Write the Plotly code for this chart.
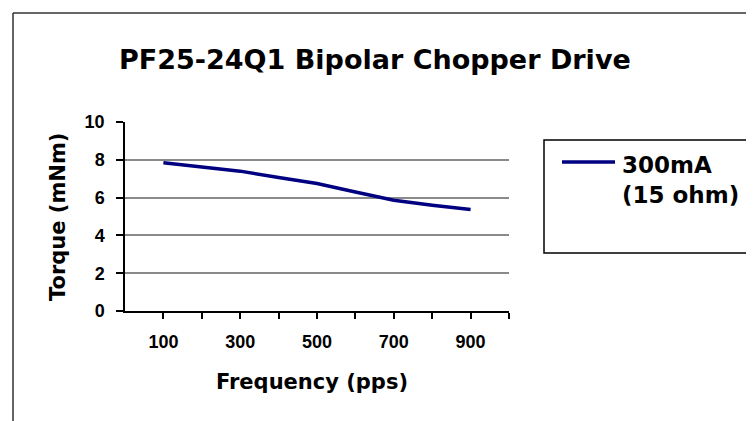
import plotly.graph_objects as go

# Data
frequency_pps = [100, 200, 300, 400, 500, 600, 700, 800, 900]
torque_mnm = [7.85, 7.62, 7.4, 7.06, 6.75, 6.3, 5.86, 5.6, 5.37]
series_name = "300mA<br>(15 ohm)"

x_tick_vals = [100, 200, 300, 400, 500, 600, 700, 800, 900, 1000]
x_tick_text = ["100", "", "300", "", "500", "", "700", "", "900", ""]
y_tick_vals = [0, 2, 4, 6, 8, 10]
y_tick_text = ["0", "2", "4", "6", "8", "10"]

OFF = 8  # page body margin
W, H = 754 - OFF, 421 - OFF
L, R, T, B = 125, 509, 122, 311  # plot area, page pixel coords


def px(x):
    return (x - L) / (R - L)


def py(y):
    return (B - y) / (B - T)


WIDE = "DejaVu Sans, Verdana, sans-serif"
NARROW = "Liberation Sans, Arial, sans-serif"
LINE_COLOR = "#000080"

fig = go.Figure()
fig.add_trace(go.Scatter(
    x=frequency_pps, y=torque_mnm, mode="lines", name=series_name,
    line=dict(color=LINE_COLOR, width=3.5), showlegend=False,
))

fig.update_layout(
    width=W, height=H,
    margin=dict(l=L - OFF, r=W - (R - OFF), t=T - OFF, b=H - (B - OFF), pad=0),
    paper_bgcolor="white", plot_bgcolor="white",
    font=dict(family=NARROW, color="black"),
    showlegend=False,
    xaxis=dict(
        range=[0, 1000], tickvals=x_tick_vals,
        ticktext=[f"<b>{t}</b>" if t else "" for t in x_tick_text],
        showgrid=False, zeroline=False,
        showline=True, linecolor="black", linewidth=1.5,
        ticks="outside", ticklen=6, tickcolor="black", tickwidth=1.5,
        ticklabelstandoff=8,
        tickfont=dict(family=NARROW, size=18, color="black"),
        fixedrange=True,
    ),
    yaxis=dict(
        range=[0, 10], tickvals=y_tick_vals,
        ticktext=[f"<b>{t}</b>" for t in y_tick_text],
        showgrid=True, gridcolor="#8a8a8a", gridwidth=2,
        zeroline=False,
        showline=True, linecolor="black", linewidth=1.5,
        ticks="outside", ticklen=7, tickcolor="black", tickwidth=1.5,
        ticklabelstandoff=8,
        tickfont=dict(family=NARROW, size=18, color="black"),
        fixedrange=True,
    ),
    annotations=[
        dict(text="<b>PF25-24Q1 Bipolar Chopper Drive</b>", xref="paper", yref="paper",
             x=px(375), y=py(59), xanchor="center", yanchor="middle", showarrow=False,
             font=dict(family=WIDE, size=27, color="black")),
        dict(text="<b>Frequency (pps)</b>", xref="paper", yref="paper",
             x=px(312), y=py(382), xanchor="center", yanchor="middle", showarrow=False,
             font=dict(family=WIDE, size=21, color="black")),
        dict(text="<b>Torque (mNm)</b>", xref="paper", yref="paper", textangle=-90,
             x=px(58), y=py(217), xanchor="center", yanchor="middle", showarrow=False,
             font=dict(family=WIDE, size=21, color="black")),
        # legend text
        dict(text=f"<b>{series_name}</b>", xref="paper", yref="paper", align="left",
             x=px(620), y=py(150), xanchor="left", yanchor="top", showarrow=False,
             font=dict(family=WIDE, size=23, color="black")),
    ],
    shapes=[
        # outer chart border (left & top visible)
        dict(type="line", xref="paper", yref="paper", x0=px(13), x1=px(13),
             y0=py(13), y1=py(430), line=dict(color="#333333", width=1.5)),
        dict(type="line", xref="paper", yref="paper", x0=px(13), x1=px(760),
             y0=py(13), y1=py(13), line=dict(color="#333333", width=1.5)),
        # legend box
        dict(type="rect", xref="paper", yref="paper", x0=px(544), x1=px(753),
             y0=py(253), y1=py(140), line=dict(color="black", width=1.5),
             fillcolor="rgba(0,0,0,0)"),
        # legend line sample
        dict(type="line", xref="paper", yref="paper", x0=px(562), x1=px(615),
             y0=py(162), y1=py(162), line=dict(color=LINE_COLOR, width=3.5)),
    ],
)

fig.write_html("out.html")
